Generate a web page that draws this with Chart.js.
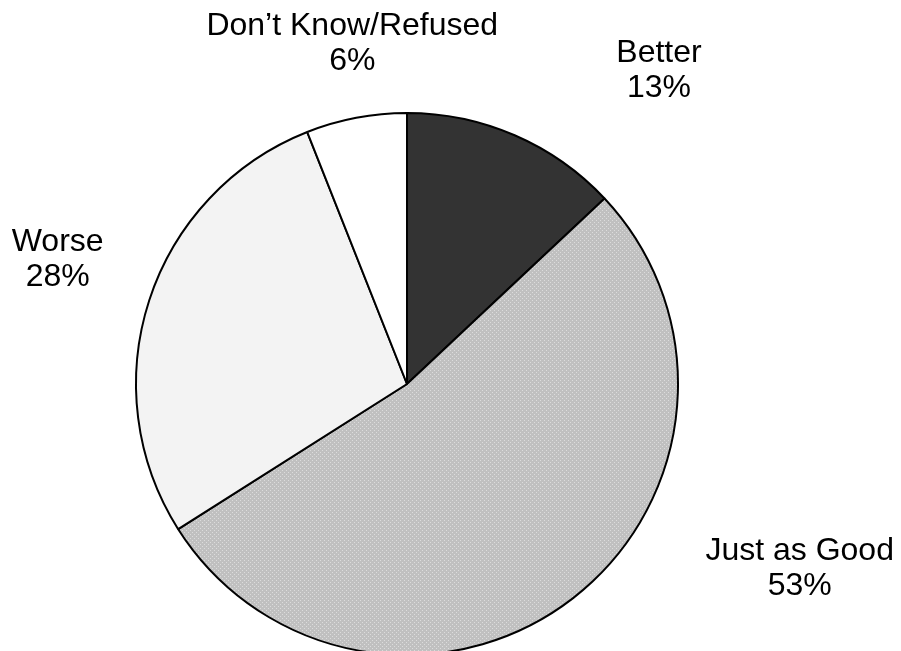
<!DOCTYPE html>
<html>
<head>
<meta charset="utf-8">
<script src="https://cdn.jsdelivr.net/npm/chart.js@4/dist/chart.umd.min.js"></script>
<style>
  html, body { margin: 0; padding: 0; background: #ffffff; overflow: hidden; }
  #wrap { width: 901px; height: 651px; overflow: hidden; }
  canvas { display: block; }
</style>
</head>
<body>
<div id="wrap"><canvas id="c" width="901" height="660"></canvas></div>
<script>
// Data
const categories = ["Better", "Just as Good", "Worse", "Don\u2019t Know/Refused"];
const values = [13, 53, 28, 6];

// Styles
function dotPattern() {
  const p = document.createElement('canvas');
  p.width = 4; p.height = 4;
  const g = p.getContext('2d');
  g.fillStyle = '#c0c0c0';
  g.fillRect(0, 0, 4, 4);
  g.fillStyle = '#dcdcdc';
  g.fillRect(0, 0, 1, 1);
  g.fillRect(2, 2, 1, 1);
  return g.createPattern(p, 'repeat');
}
const ctx0 = document.getElementById('c').getContext('2d');
const sliceColors = ['#333333', dotPattern(), '#f3f3f3', '#ffffff'];
// label block centre, relative to pie centre, in units of the radius
const labelOffsets = [[0.93, -1.158], [1.449, 0.682], [-1.289, -0.46], [-0.202, -1.254]];

const outsideLabels = {
  id: 'outsideLabels',
  afterDatasetsDraw(chart) {
    const ctx = chart.ctx;
    const meta = chart.getDatasetMeta(0);
    ctx.save();
    ctx.fillStyle = '#000000';
    ctx.font = '32px "Liberation Sans", Arial, sans-serif';
    ctx.textAlign = 'center';
    ctx.textBaseline = 'middle';
    const lh = 35;
    meta.data.forEach((arc, i) => {
      const r = arc.outerRadius;
      const off = labelOffsets[i];
      const x = arc.x + off[0] * r;
      const y = arc.y + off[1] * r;
      const lines = [chart.data.labels[i], chart.data.datasets[0].data[i] + '%'];
      ctx.fillText(lines[0], x, y - lh / 2);
      ctx.fillText(lines[1], x, y + lh / 2);
    });
    ctx.restore();
  }
};

new Chart(ctx0, {
  type: 'pie',
  data: {
    labels: categories,
    datasets: [{
      data: values,
      backgroundColor: sliceColors,
      borderColor: '#000000',
      borderWidth: 2
    }]
  },
  options: {
    responsive: false,
    animation: false,
    rotation: 0,
    layout: { padding: { top: 112, bottom: 4, left: 0, right: 87 } },
    plugins: {
      legend: { display: false },
      tooltip: { enabled: false }
    }
  },
  plugins: [outsideLabels]
});
</script>
</body>
</html>
